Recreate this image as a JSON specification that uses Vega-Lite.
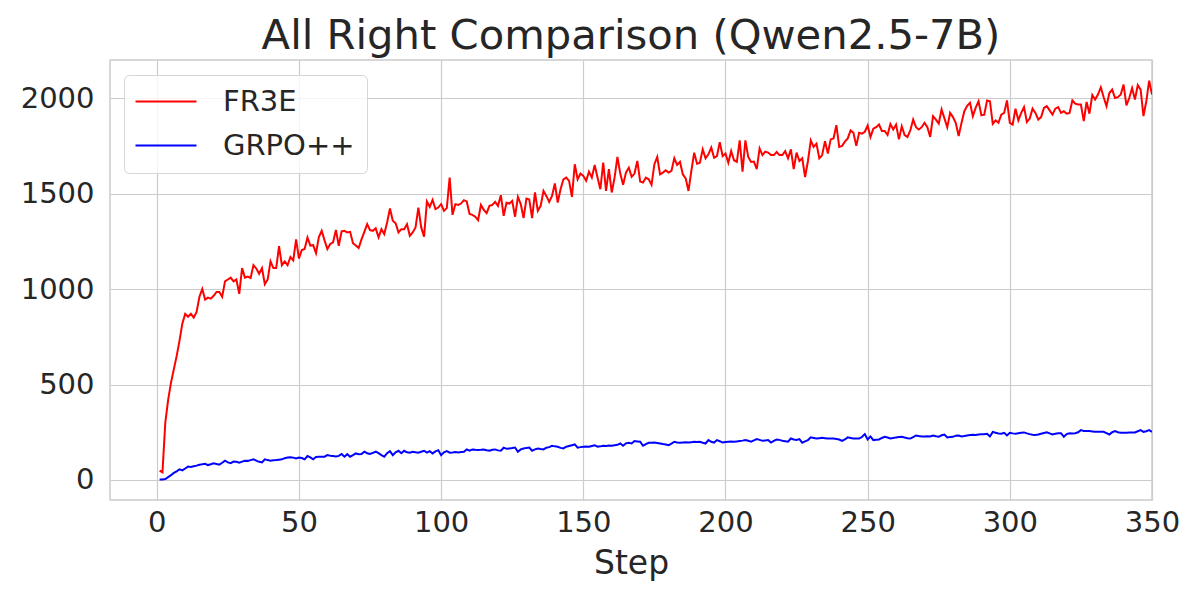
{
  "$schema": "https://vega.github.io/schema/vega-lite/v6.json",
  "width": 1042,
  "height": 440,
  "autosize": "none",
  "padding": {"left": 110, "top": 60, "right": 48, "bottom": 100},
  "background": "white",
  "config": {
    "font": "DejaVu Sans",
    "view": {"stroke": "#cccccc", "strokeWidth": 1.5},
    "axis": {"labelFont": "DejaVu Sans", "titleFont": "DejaVu Sans"}
  },
  "title": {
    "text": "All Right Comparison (Qwen2.5-7B)",
    "fontSize": 41.7,
    "fontWeight": "normal",
    "color": "#262626",
    "anchor": "middle",
    "baseline": "alphabetic",
    "offset": -31
  },
  "data": {
    "values": [
      {"step":1,"FR3E":49,"GRPO++":2},{"step":2,"FR3E":40,"GRPO++":2},{"step":3,"FR3E":300,"GRPO++":5},{"step":4,"FR3E":420,"GRPO++":15},{"step":5,"FR3E":510,"GRPO++":25},
      {"step":6,"FR3E":580,"GRPO++":37},{"step":7,"FR3E":650,"GRPO++":45},{"step":8,"FR3E":730,"GRPO++":56},{"step":9,"FR3E":820,"GRPO++":50},{"step":10,"FR3E":870,"GRPO++":60},
      {"step":11,"FR3E":855,"GRPO++":70},{"step":12,"FR3E":870,"GRPO++":68},{"step":13,"FR3E":850,"GRPO++":72},{"step":14,"FR3E":880,"GRPO++":75},{"step":15,"FR3E":960,"GRPO++":80},
      {"step":16,"FR3E":1000,"GRPO++":82},{"step":17,"FR3E":945,"GRPO++":85},{"step":18,"FR3E":955,"GRPO++":78},{"step":19,"FR3E":950,"GRPO++":82},{"step":20,"FR3E":965,"GRPO++":87},
      {"step":21,"FR3E":985,"GRPO++":84},{"step":22,"FR3E":985,"GRPO++":80},{"step":23,"FR3E":960,"GRPO++":90},{"step":24,"FR3E":1040,"GRPO++":101},{"step":25,"FR3E":1050,"GRPO++":92},
      {"step":26,"FR3E":1060,"GRPO++":88},{"step":27,"FR3E":1040,"GRPO++":96},{"step":28,"FR3E":1050,"GRPO++":95},{"step":29,"FR3E":975,"GRPO++":90},{"step":30,"FR3E":1110,"GRPO++":96},
      {"step":31,"FR3E":1060,"GRPO++":101},{"step":32,"FR3E":1065,"GRPO++":100},{"step":33,"FR3E":1058,"GRPO++":104},{"step":34,"FR3E":1125,"GRPO++":108},{"step":35,"FR3E":1108,"GRPO++":101},
      {"step":36,"FR3E":1080,"GRPO++":95},{"step":37,"FR3E":1110,"GRPO++":92},{"step":38,"FR3E":1025,"GRPO++":108},{"step":39,"FR3E":1050,"GRPO++":104},{"step":40,"FR3E":1145,"GRPO++":101},
      {"step":41,"FR3E":1110,"GRPO++":103},{"step":42,"FR3E":1110,"GRPO++":104},{"step":43,"FR3E":1225,"GRPO++":106},{"step":44,"FR3E":1125,"GRPO++":108},{"step":45,"FR3E":1145,"GRPO++":114},
      {"step":46,"FR3E":1125,"GRPO++":118},{"step":47,"FR3E":1168,"GRPO++":119},{"step":48,"FR3E":1150,"GRPO++":117},{"step":49,"FR3E":1260,"GRPO++":113},{"step":50,"FR3E":1160,"GRPO++":118},
      {"step":51,"FR3E":1205,"GRPO++":115},{"step":52,"FR3E":1210,"GRPO++":108},{"step":53,"FR3E":1270,"GRPO++":125},{"step":54,"FR3E":1228,"GRPO++":118},{"step":55,"FR3E":1230,"GRPO++":108},
      {"step":56,"FR3E":1188,"GRPO++":120},{"step":57,"FR3E":1272,"GRPO++":122},{"step":58,"FR3E":1305,"GRPO++":121},{"step":59,"FR3E":1255,"GRPO++":122},{"step":60,"FR3E":1210,"GRPO++":130},
      {"step":61,"FR3E":1236,"GRPO++":127},{"step":62,"FR3E":1245,"GRPO++":125},{"step":63,"FR3E":1310,"GRPO++":123},{"step":64,"FR3E":1227,"GRPO++":126},{"step":65,"FR3E":1302,"GRPO++":136},
      {"step":66,"FR3E":1305,"GRPO++":122},{"step":67,"FR3E":1297,"GRPO++":135},{"step":68,"FR3E":1300,"GRPO++":122},{"step":69,"FR3E":1240,"GRPO++":130},{"step":70,"FR3E":1228,"GRPO++":139},
      {"step":71,"FR3E":1215,"GRPO++":135},{"step":72,"FR3E":1260,"GRPO++":136},{"step":73,"FR3E":1300,"GRPO++":148},{"step":74,"FR3E":1340,"GRPO++":140},{"step":75,"FR3E":1309,"GRPO++":136},
      {"step":76,"FR3E":1305,"GRPO++":142},{"step":77,"FR3E":1318,"GRPO++":148},{"step":78,"FR3E":1271,"GRPO++":140},{"step":79,"FR3E":1314,"GRPO++":130},{"step":80,"FR3E":1288,"GRPO++":122},
      {"step":81,"FR3E":1349,"GRPO++":140},{"step":82,"FR3E":1422,"GRPO++":151},{"step":83,"FR3E":1358,"GRPO++":130},{"step":84,"FR3E":1345,"GRPO++":145},{"step":85,"FR3E":1297,"GRPO++":153},
      {"step":86,"FR3E":1314,"GRPO++":140},{"step":87,"FR3E":1314,"GRPO++":153},{"step":88,"FR3E":1340,"GRPO++":145},{"step":89,"FR3E":1279,"GRPO++":143},{"step":90,"FR3E":1297,"GRPO++":148},
      {"step":91,"FR3E":1323,"GRPO++":145},{"step":92,"FR3E":1427,"GRPO++":143},{"step":93,"FR3E":1323,"GRPO++":148},{"step":94,"FR3E":1274,"GRPO++":153},{"step":95,"FR3E":1459,"GRPO++":143},
      {"step":96,"FR3E":1431,"GRPO++":151},{"step":97,"FR3E":1467,"GRPO++":139},{"step":98,"FR3E":1419,"GRPO++":150},{"step":99,"FR3E":1427,"GRPO++":156},{"step":100,"FR3E":1445,"GRPO++":130},
      {"step":101,"FR3E":1410,"GRPO++":145},{"step":102,"FR3E":1424,"GRPO++":151},{"step":103,"FR3E":1584,"GRPO++":143},{"step":104,"FR3E":1389,"GRPO++":144},{"step":105,"FR3E":1445,"GRPO++":146},
      {"step":106,"FR3E":1441,"GRPO++":144},{"step":107,"FR3E":1448,"GRPO++":146},{"step":108,"FR3E":1466,"GRPO++":148},{"step":109,"FR3E":1459,"GRPO++":160},{"step":110,"FR3E":1393,"GRPO++":153},
      {"step":111,"FR3E":1389,"GRPO++":160},{"step":112,"FR3E":1379,"GRPO++":158},{"step":113,"FR3E":1361,"GRPO++":157},{"step":114,"FR3E":1441,"GRPO++":158},{"step":115,"FR3E":1415,"GRPO++":160},
      {"step":116,"FR3E":1398,"GRPO++":156},{"step":117,"FR3E":1436,"GRPO++":153},{"step":118,"FR3E":1441,"GRPO++":158},{"step":119,"FR3E":1457,"GRPO++":160},{"step":120,"FR3E":1436,"GRPO++":155},
      {"step":121,"FR3E":1492,"GRPO++":153},{"step":122,"FR3E":1384,"GRPO++":169},{"step":123,"FR3E":1452,"GRPO++":163},{"step":124,"FR3E":1448,"GRPO++":165},{"step":125,"FR3E":1462,"GRPO++":167},
      {"step":126,"FR3E":1379,"GRPO++":170},{"step":127,"FR3E":1483,"GRPO++":148},{"step":128,"FR3E":1445,"GRPO++":160},{"step":129,"FR3E":1372,"GRPO++":165},{"step":130,"FR3E":1474,"GRPO++":168},
      {"step":131,"FR3E":1469,"GRPO++":170},{"step":132,"FR3E":1372,"GRPO++":153},{"step":133,"FR3E":1506,"GRPO++":160},{"step":134,"FR3E":1410,"GRPO++":165},{"step":135,"FR3E":1436,"GRPO++":162},
      {"step":136,"FR3E":1514,"GRPO++":160},{"step":137,"FR3E":1488,"GRPO++":169},{"step":138,"FR3E":1457,"GRPO++":172},{"step":139,"FR3E":1488,"GRPO++":179},{"step":140,"FR3E":1553,"GRPO++":176},
      {"step":141,"FR3E":1453,"GRPO++":174},{"step":142,"FR3E":1523,"GRPO++":168},{"step":143,"FR3E":1575,"GRPO++":165},{"step":144,"FR3E":1584,"GRPO++":174},{"step":145,"FR3E":1567,"GRPO++":178},
      {"step":146,"FR3E":1483,"GRPO++":182},{"step":147,"FR3E":1654,"GRPO++":186},{"step":148,"FR3E":1575,"GRPO++":169},{"step":149,"FR3E":1605,"GRPO++":172},{"step":150,"FR3E":1593,"GRPO++":174},
      {"step":151,"FR3E":1567,"GRPO++":175},{"step":152,"FR3E":1615,"GRPO++":174},{"step":153,"FR3E":1584,"GRPO++":178},{"step":154,"FR3E":1650,"GRPO++":182},{"step":155,"FR3E":1584,"GRPO++":174},
      {"step":156,"FR3E":1523,"GRPO++":176},{"step":157,"FR3E":1663,"GRPO++":179},{"step":158,"FR3E":1514,"GRPO++":178},{"step":159,"FR3E":1628,"GRPO++":180},{"step":160,"FR3E":1506,"GRPO++":179},
      {"step":161,"FR3E":1584,"GRPO++":182},{"step":162,"FR3E":1692,"GRPO++":184},{"step":163,"FR3E":1605,"GRPO++":191},{"step":164,"FR3E":1546,"GRPO++":179},{"step":165,"FR3E":1610,"GRPO++":192},
      {"step":166,"FR3E":1636,"GRPO++":195},{"step":167,"FR3E":1588,"GRPO++":191},{"step":168,"FR3E":1605,"GRPO++":204},{"step":169,"FR3E":1671,"GRPO++":202},{"step":170,"FR3E":1563,"GRPO++":200},
      {"step":171,"FR3E":1558,"GRPO++":179},{"step":172,"FR3E":1584,"GRPO++":188},{"step":173,"FR3E":1575,"GRPO++":195},{"step":174,"FR3E":1546,"GRPO++":195},{"step":175,"FR3E":1654,"GRPO++":196},
      {"step":176,"FR3E":1692,"GRPO++":194},{"step":177,"FR3E":1601,"GRPO++":191},{"step":178,"FR3E":1610,"GRPO++":188},{"step":179,"FR3E":1622,"GRPO++":186},{"step":180,"FR3E":1610,"GRPO++":182},
      {"step":181,"FR3E":1619,"GRPO++":190},{"step":182,"FR3E":1685,"GRPO++":200},{"step":183,"FR3E":1650,"GRPO++":196},{"step":184,"FR3E":1666,"GRPO++":195},{"step":185,"FR3E":1601,"GRPO++":196},
      {"step":186,"FR3E":1580,"GRPO++":197},{"step":187,"FR3E":1514,"GRPO++":196},{"step":188,"FR3E":1619,"GRPO++":198},{"step":189,"FR3E":1714,"GRPO++":200},{"step":190,"FR3E":1657,"GRPO++":199},
      {"step":191,"FR3E":1662,"GRPO++":200},{"step":192,"FR3E":1732,"GRPO++":195},{"step":193,"FR3E":1685,"GRPO++":191},{"step":194,"FR3E":1706,"GRPO++":209},{"step":195,"FR3E":1741,"GRPO++":200},
      {"step":196,"FR3E":1688,"GRPO++":196},{"step":197,"FR3E":1697,"GRPO++":209},{"step":198,"FR3E":1770,"GRPO++":203},{"step":199,"FR3E":1697,"GRPO++":196},{"step":200,"FR3E":1710,"GRPO++":199},
      {"step":201,"FR3E":1662,"GRPO++":200},{"step":202,"FR3E":1723,"GRPO++":201},{"step":203,"FR3E":1675,"GRPO++":200},{"step":204,"FR3E":1666,"GRPO++":202},{"step":205,"FR3E":1779,"GRPO++":204},
      {"step":206,"FR3E":1615,"GRPO++":206},{"step":207,"FR3E":1779,"GRPO++":209},{"step":208,"FR3E":1692,"GRPO++":205},{"step":209,"FR3E":1666,"GRPO++":200},{"step":210,"FR3E":1668,"GRPO++":207},
      {"step":211,"FR3E":1628,"GRPO++":214},{"step":212,"FR3E":1737,"GRPO++":210},{"step":213,"FR3E":1702,"GRPO++":205},{"step":214,"FR3E":1720,"GRPO++":207},{"step":215,"FR3E":1715,"GRPO++":209},
      {"step":216,"FR3E":1702,"GRPO++":196},{"step":217,"FR3E":1702,"GRPO++":205},{"step":218,"FR3E":1718,"GRPO++":212},{"step":219,"FR3E":1702,"GRPO++":210},{"step":220,"FR3E":1702,"GRPO++":205},
      {"step":221,"FR3E":1723,"GRPO++":203},{"step":222,"FR3E":1685,"GRPO++":200},{"step":223,"FR3E":1732,"GRPO++":217},{"step":224,"FR3E":1628,"GRPO++":212},{"step":225,"FR3E":1715,"GRPO++":209},
      {"step":226,"FR3E":1671,"GRPO++":214},{"step":227,"FR3E":1685,"GRPO++":195},{"step":228,"FR3E":1587,"GRPO++":202},{"step":229,"FR3E":1671,"GRPO++":209},{"step":230,"FR3E":1779,"GRPO++":223},
      {"step":231,"FR3E":1745,"GRPO++":220},{"step":232,"FR3E":1762,"GRPO++":217},{"step":233,"FR3E":1685,"GRPO++":219},{"step":234,"FR3E":1702,"GRPO++":221},{"step":235,"FR3E":1775,"GRPO++":219},
      {"step":236,"FR3E":1710,"GRPO++":217},{"step":237,"FR3E":1784,"GRPO++":217},{"step":238,"FR3E":1789,"GRPO++":217},{"step":239,"FR3E":1859,"GRPO++":215},{"step":240,"FR3E":1745,"GRPO++":212},
      {"step":241,"FR3E":1750,"GRPO++":205},{"step":242,"FR3E":1772,"GRPO++":212},{"step":243,"FR3E":1789,"GRPO++":223},{"step":244,"FR3E":1831,"GRPO++":220},{"step":245,"FR3E":1819,"GRPO++":217},
      {"step":246,"FR3E":1750,"GRPO++":217},{"step":247,"FR3E":1819,"GRPO++":217},{"step":248,"FR3E":1814,"GRPO++":225},{"step":249,"FR3E":1824,"GRPO++":240},{"step":250,"FR3E":1857,"GRPO++":212},
      {"step":251,"FR3E":1797,"GRPO++":228},{"step":252,"FR3E":1840,"GRPO++":209},{"step":253,"FR3E":1848,"GRPO++":211},{"step":254,"FR3E":1862,"GRPO++":212},{"step":255,"FR3E":1828,"GRPO++":220},
      {"step":256,"FR3E":1828,"GRPO++":226},{"step":257,"FR3E":1807,"GRPO++":222},{"step":258,"FR3E":1865,"GRPO++":217},{"step":259,"FR3E":1836,"GRPO++":220},{"step":260,"FR3E":1862,"GRPO++":223},
      {"step":261,"FR3E":1784,"GRPO++":225},{"step":262,"FR3E":1853,"GRPO++":226},{"step":263,"FR3E":1807,"GRPO++":222},{"step":264,"FR3E":1797,"GRPO++":219},{"step":265,"FR3E":1831,"GRPO++":217},
      {"step":266,"FR3E":1888,"GRPO++":225},{"step":267,"FR3E":1848,"GRPO++":233},{"step":268,"FR3E":1836,"GRPO++":230},{"step":269,"FR3E":1848,"GRPO++":228},{"step":270,"FR3E":1871,"GRPO++":228},
      {"step":271,"FR3E":1848,"GRPO++":229},{"step":272,"FR3E":1797,"GRPO++":228},{"step":273,"FR3E":1906,"GRPO++":233},{"step":274,"FR3E":1888,"GRPO++":229},{"step":275,"FR3E":1867,"GRPO++":226},
      {"step":276,"FR3E":1941,"GRPO++":234},{"step":277,"FR3E":1894,"GRPO++":238},{"step":278,"FR3E":1848,"GRPO++":223},{"step":279,"FR3E":1923,"GRPO++":225},{"step":280,"FR3E":1901,"GRPO++":226},
      {"step":281,"FR3E":1870,"GRPO++":232},{"step":282,"FR3E":1802,"GRPO++":233},{"step":283,"FR3E":1870,"GRPO++":228},{"step":284,"FR3E":1932,"GRPO++":230},{"step":285,"FR3E":1960,"GRPO++":233},
      {"step":286,"FR3E":1976,"GRPO++":235},{"step":287,"FR3E":1906,"GRPO++":237},{"step":288,"FR3E":1950,"GRPO++":236},{"step":289,"FR3E":1984,"GRPO++":238},{"step":290,"FR3E":1910,"GRPO++":239},
      {"step":291,"FR3E":1914,"GRPO++":240},{"step":292,"FR3E":1988,"GRPO++":242},{"step":293,"FR3E":1984,"GRPO++":228},{"step":294,"FR3E":1866,"GRPO++":252},{"step":295,"FR3E":1884,"GRPO++":247},
      {"step":296,"FR3E":1871,"GRPO++":243},{"step":297,"FR3E":1914,"GRPO++":242},{"step":298,"FR3E":1923,"GRPO++":247},{"step":299,"FR3E":1988,"GRPO++":233},{"step":300,"FR3E":1871,"GRPO++":247},
      {"step":301,"FR3E":1862,"GRPO++":244},{"step":302,"FR3E":1945,"GRPO++":242},{"step":303,"FR3E":1884,"GRPO++":245},{"step":304,"FR3E":1923,"GRPO++":247},{"step":305,"FR3E":1953,"GRPO++":249},
      {"step":306,"FR3E":1875,"GRPO++":244},{"step":307,"FR3E":1893,"GRPO++":240},{"step":308,"FR3E":1945,"GRPO++":237},{"step":309,"FR3E":1923,"GRPO++":235},{"step":310,"FR3E":1888,"GRPO++":238},
      {"step":311,"FR3E":1901,"GRPO++":242},{"step":312,"FR3E":1949,"GRPO++":246},{"step":313,"FR3E":1958,"GRPO++":250},{"step":314,"FR3E":1936,"GRPO++":244},{"step":315,"FR3E":1914,"GRPO++":238},
      {"step":316,"FR3E":1945,"GRPO++":242},{"step":317,"FR3E":1953,"GRPO++":245},{"step":318,"FR3E":1923,"GRPO++":245},{"step":319,"FR3E":1932,"GRPO++":226},{"step":320,"FR3E":1919,"GRPO++":240},
      {"step":321,"FR3E":1923,"GRPO++":245},{"step":322,"FR3E":1988,"GRPO++":244},{"step":323,"FR3E":1971,"GRPO++":245},{"step":324,"FR3E":1967,"GRPO++":250},{"step":325,"FR3E":1967,"GRPO++":261},
      {"step":326,"FR3E":1880,"GRPO++":257},{"step":327,"FR3E":1980,"GRPO++":256},{"step":328,"FR3E":1919,"GRPO++":256},{"step":329,"FR3E":2016,"GRPO++":254},{"step":330,"FR3E":1993,"GRPO++":252},
      {"step":331,"FR3E":2019,"GRPO++":252},{"step":332,"FR3E":2057,"GRPO++":252},{"step":333,"FR3E":2005,"GRPO++":252},{"step":334,"FR3E":1958,"GRPO++":245},{"step":335,"FR3E":2027,"GRPO++":238},
      {"step":336,"FR3E":2045,"GRPO++":250},{"step":337,"FR3E":2001,"GRPO++":256},{"step":338,"FR3E":2005,"GRPO++":250},{"step":339,"FR3E":2019,"GRPO++":247},{"step":340,"FR3E":2071,"GRPO++":247},
      {"step":341,"FR3E":1962,"GRPO++":247},{"step":342,"FR3E":2001,"GRPO++":248},{"step":343,"FR3E":2053,"GRPO++":248},{"step":344,"FR3E":1993,"GRPO++":249},{"step":345,"FR3E":2068,"GRPO++":255},
      {"step":346,"FR3E":2045,"GRPO++":261},{"step":347,"FR3E":1906,"GRPO++":252},{"step":348,"FR3E":1984,"GRPO++":255},{"step":349,"FR3E":2092,"GRPO++":261},{"step":350,"FR3E":2019,"GRPO++":252}
    ]
  },
  "transform": [{"fold": ["FR3E", "GRPO++"], "as": ["series", "value"]}],
  "mark": {"type": "line", "strokeWidth": 2, "clip": true},
  "encoding": {
    "x": {
      "field": "step",
      "type": "quantitative",
      "scale": {"domain": [-16.45, 350], "nice": false, "zero": false},
      "axis": {
        "title": "Step",
        "titleFontSize": 33,
        "titleFontWeight": "normal",
        "titleColor": "#262626",
        "titlePadding": 10,
        "values": [0, 50, 100, 150, 200, 250, 300, 350],
        "format": "d",
        "labelFontSize": 29,
        "labelColor": "#262626",
        "labelPadding": 8,
        "labelFlush": false,
        "labelOverlap": false,
        "labelBound": false,
        "ticks": false,
        "tickSize": 0,
        "domain": false,
        "grid": true,
        "gridColor": "#cccccc",
        "gridWidth": 1.2
      }
    },
    "y": {
      "field": "value",
      "type": "quantitative",
      "scale": {"domain": [-105, 2200], "nice": false, "zero": false},
      "axis": {
        "title": null,
        "values": [0, 500, 1000, 1500, 2000],
        "format": "d",
        "labelFontSize": 29,
        "labelColor": "#262626",
        "labelPadding": 16,
        "labelOverlap": false,
        "labelBound": false,
        "ticks": false,
        "tickSize": 0,
        "domain": false,
        "grid": true,
        "gridColor": "#cccccc",
        "gridWidth": 1.2
      }
    },
    "color": {
      "field": "series",
      "type": "nominal",
      "scale": {"domain": ["FR3E", "GRPO++"], "range": ["#ff0000", "#0000ff"]},
      "legend": {
        "title": null,
        "orient": "none",
        "legendX": 14,
        "legendY": 15,
        "symbolType": "M-1.5,0H4.6",
        "symbolSize": 400,
        "symbolStrokeWidth": 2,
        "symbolFillColor": "transparent",
        "labelFontSize": 29,
        "labelColor": "#262626",
        "labelOffset": 58,
        "rowPadding": 14,
        "padding": 12,
        "fillColor": "rgba(255,255,255,0.8)",
        "strokeColor": "#d6d6d6",
        "cornerRadius": 5
      }
    }
  }
}
